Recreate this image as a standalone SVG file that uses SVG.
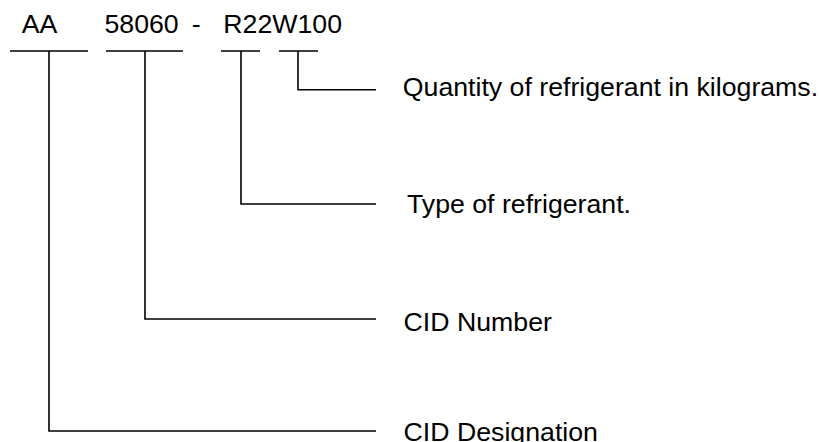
<svg xmlns="http://www.w3.org/2000/svg" width="821" height="442" viewBox="0 0 821 442">
<style>
text{font-family:"Liberation Sans",Arial,sans-serif;font-size:26.7px;fill:#000}
.ln{fill:none;stroke:#000;stroke-width:1.6}
</style>
<rect width="821" height="442" fill="#fff"/>
<g id="code">
<text y="33.3"><tspan x="21.7">AA</tspan><tspan x="104.5">58060</tspan><tspan x="191.8">-</tspan><tspan x="223.3">R22W100</tspan></text>
</g>
<g id="connectors">
<path class="ln" d="M10 51H88M106 51H183M221 51H260M279 51H318"/>
<path class="ln" d="M298 51V89.7H376"/>
<path class="ln" d="M241 51V204H376"/>
<path class="ln" d="M145 51V319H376"/>
<path class="ln" d="M49 51V431H376"/>
</g>
<g id="n1"><text x="402.8" y="96">Quantity of refrigerant in kilograms.</text></g>
<g id="n2"><text x="407" y="212.7">Type of refrigerant.</text></g>
<g id="n3"><text x="403.6" y="330.7">CID Number</text></g>
<g id="n4"><text x="403.6" y="440.7">CID Designation</text></g>
</svg>
